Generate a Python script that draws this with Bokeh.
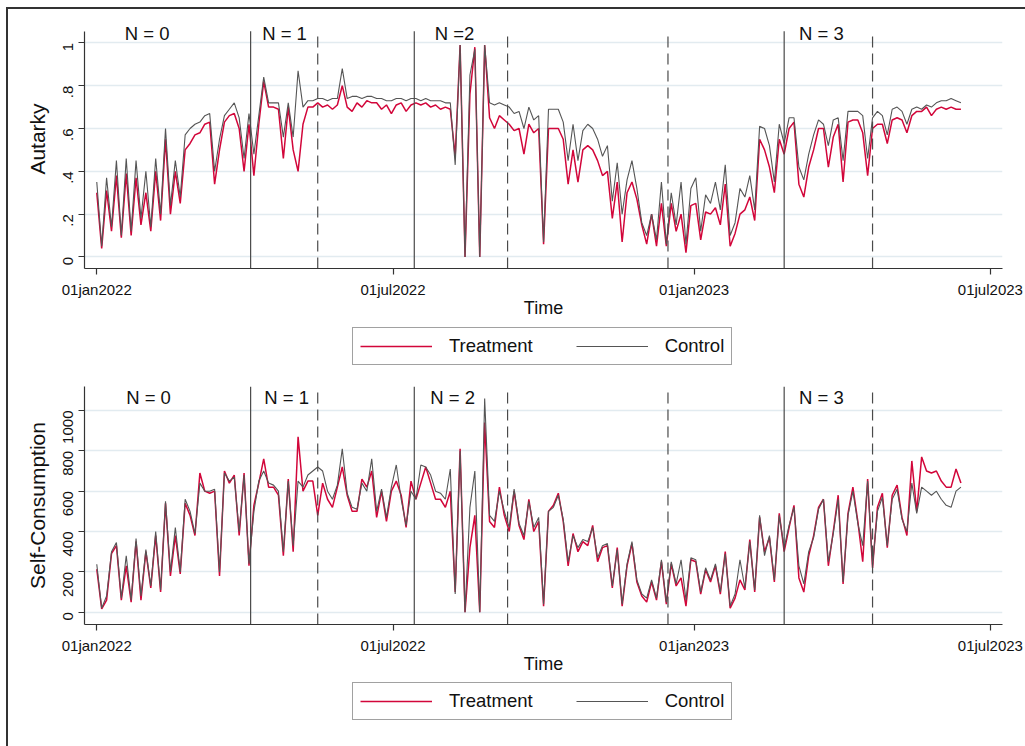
import math
import pandas as pd
from bokeh.plotting import figure
from bokeh.models import (Range1d, FixedTicker, Label, Legend, LegendItem,
                          CustomJSTickFormatter, ColumnDataSource)
from bokeh.layouts import column
from bokeh.embed import file_html
from bokeh.resources import INLINE

# ---------------- data (sampled every 3 days from 01jan2022) ----------------
start_date = "2022-01-01"
step = "3D"

autarky_treatment = [
    .30, .04, .31, .12, .38, .09, .39, .10, .37, .15, .30, .12, .40, .17, .55, .20, .40, .25, .50, .53, .57,
    .58, .62, .63, .34, .50, .63, .66, .67, .60, .40,
    .62, .38, .62, .82, .70, .70, .69, .46, .70, .50,
    .40, .62, .70, .70, .72, .70, .71, .69, .71, .80,
    .70, .68, .72, .70, .73, .72, .72, .69, .71, .67,
    .71, .72, .68, .71, .72, .71, .72, .70, .71, .69,
    .70, .69, .47, .99, .00, .76, .98, .00, .99, .65,
    .60, .66, .64, .62, .59, .60, .48, .62, .58, .60,
    .06, .60, .60, .60, .55, .34, .50, .35, .50, .52,
    .50, .45, .38, .40, .18, .35, .07, .30, .35, .27,
    .15, .06, .20, .05, .25, .05, .25, .12, .20, .02,
    .24, .25, .08, .21, .20, .23, .15, .34, .05, .11,
    .20, .22, .28, .17, .55, .50, .42, .30, .55, .48,
    .60, .63, .34, .28, .42, .50, .60, .60, .42, .56,
    .62, .35, .63, .64, .64, .58, .38, .60, .62, .62,
    .53, .64, .65, .64, .58, .66, .68, .68, .70, .66,
    .69, .70, .69, .70, .69, .69,
]
autarky_control = [
    .35, .05, .37, .14, .45, .10, .46, .12, .45, .18, .40, .14, .46, .20, .60, .24, .45, .28, .57, .60, .62,
    .63, .66, .67, .40, .55, .66, .69, .72, .65, .46,
    .67, .48, .66, .84, .72, .72, .72, .56, .72, .56,
    .87, .70, .73, .73, .74, .74, .73, .74, .74, .88,
    .74, .75, .75, .74, .75, .75, .74, .74, .73, .73,
    .74, .74, .73, .74, .74, .73, .74, .73, .73, .73,
    .72, .72, .43, .99, .00, .85, .97, .00, .99, .72,
    .71, .72, .71, .70, .67, .68, .60, .70, .64, .66,
    .07, .69, .69, .69, .63, .45, .62, .45, .59, .62,
    .60, .55, .47, .52, .26, .44, .20, .36, .45, .32,
    .16, .10, .20, .08, .35, .06, .30, .15, .35, .06,
    .32, .37, .12, .29, .25, .35, .22, .43, .10, .16,
    .32, .28, .38, .22, .61, .60, .52, .35, .62, .53,
    .65, .65, .42, .36, .48, .57, .64, .62, .52, .64,
    .65, .45, .68, .68, .68, .66, .46, .65, .68, .66,
    .57, .69, .70, .68, .62, .69, .70, .69, .71, .70,
    .72, .73, .73, .74, .73, .72,
]
selfcons_treatment = [
    213, 16, 60, 290, 330, 60, 230, 50, 350, 60, 300, 120, 380, 100, 540, 180, 380, 190, 540, 480, 380,
    690, 600, 590, 600, 180, 700, 640, 680, 380, 690,
    230, 530, 640, 760, 620, 620, 580, 280, 660, 300,
    870, 600, 650, 650, 480, 640, 560, 520, 620, 720,
    580, 500, 500, 660, 620, 700, 470, 600, 450, 600,
    650, 580, 420, 650, 560, 640, 720, 640, 560, 560,
    520, 600, 100, 810, 0, 320, 480, 0, 940, 450,
    420, 620, 480, 400, 600, 430, 360, 560, 400, 450,
    30, 500, 530, 590, 450, 230, 390, 300, 350, 330,
    430, 250, 320, 330, 120, 320, 30, 230, 340, 150,
    80, 50, 150, 60, 250, 40, 240, 130, 170, 30,
    260, 250, 90, 210, 150, 230, 90, 300, 20, 70,
    160, 110, 360, 100, 470, 300, 370, 150, 490, 300,
    420, 530, 170, 100, 280, 380, 520, 560, 230, 400,
    580, 140, 490, 620, 450, 250, 660, 220, 520, 590,
    320, 580, 630, 470, 380, 750, 500, 770, 700, 690,
    700, 650, 620, 620, 710, 640,
]
selfcons_control = [
    238, 20, 80, 300, 345, 70, 280, 60, 365, 80, 310, 130, 400, 110, 550, 200, 420, 200, 560, 500, 390,
    640, 600, 600, 610, 200, 690, 650, 670, 400, 680,
    240, 500, 650, 700, 640, 630, 600, 300, 650, 330,
    650, 620, 680, 700, 720, 700, 600, 560, 630, 810,
    590, 520, 510, 640, 600, 760, 500, 610, 470, 620,
    730, 560, 430, 600, 560, 730, 720, 680, 600, 590,
    560, 710, 90, 800, 0, 520, 700, 0, 1060, 480,
    450, 600, 500, 420, 610, 440, 380, 550, 420, 470,
    40, 500, 520, 580, 460, 250, 380, 320, 360, 350,
    420, 270, 330, 340, 130, 310, 40, 240, 350, 160,
    90, 70, 160, 70, 260, 50, 250, 140, 260, 60,
    270, 260, 100, 220, 160, 240, 100, 290, 30, 90,
    260, 120, 350, 110, 480, 280, 380, 160, 480, 320,
    430, 520, 230, 140, 300, 370, 510, 560, 250, 390,
    560, 150, 480, 600, 440, 330, 650, 230, 500, 570,
    330, 560, 610, 460, 400, 640, 490, 620, 600, 580,
    600, 560, 530, 520, 600, 620,
]

x_tick_dates = ["2022-01-01", "2022-07-01", "2023-01-01", "2023-07-01"]
autarky_ticks = [0, 0.2, 0.4, 0.6, 0.8, 1.0]
selfcons_ticks = [0, 200, 400, 600, 800, 1000]
solid_line_dates = ["2022-04-05", "2022-07-14", "2023-02-25"]
dashed_line_dates = ["2022-05-16", "2022-09-09", "2022-12-16", "2023-04-20"]
phase_labels_top = ["N = 0", "N = 1", "N =2", "N = 3"]
phase_labels_bottom = ["N = 0", "N = 1", "N = 2", "N = 3"]
series_names = ["Treatment", "Control"]

# ---------------- helpers ----------------
dates = pd.date_range(start_date, periods=len(autarky_treatment), freq=step)
base = pd.Timestamp(start_date)
DAY_MS = 86400000.0
W = 1017


def ms(ts):
    return pd.Timestamp(ts).value / 1e6


def day_ms(d):
    return ms(base) + d * DAY_MS


FONT = "Liberation Sans"
TXT = "#111111"
RED = "#d2063a"
GRAY = "#555555"
REFLINE = "#4a4a4a"

x_fmt = CustomJSTickFormatter(code="""
const d = new Date(tick);
const m = ['jan','feb','mar','apr','may','jun','jul','aug','sep','oct','nov','dec'][d.getUTCMonth()];
const dd = String(d.getUTCDate()).padStart(2, '0');
return dd + m + d.getUTCFullYear();
""")


def make_panel(t_vals, c_vals, y_lo, y_hi, y_top, y_ticks, y_fmt, ylab, labels, label_y,
               label_days, height, top_border, bottom_border):
    p = figure(x_axis_type="datetime", output_backend="svg", toolbar_location=None,
               width=W, height=height,
               min_border_left=76, min_border_right=23,
               min_border_top=top_border, min_border_bottom=bottom_border,
               x_range=Range1d(day_ms(-7.5), day_ms(553.4)),
               y_range=Range1d(y_lo, y_top))
    p.background_fill_color = "white"
    p.border_fill_color = "white"
    p.outline_line_color = None

    src = ColumnDataSource(dict(date=dates, t=t_vals, c=c_vals))
    p.line("date", "t", source=src, line_color=RED, line_width=1.5)
    p.line("date", "c", source=src, line_color=GRAY, line_width=1.1)

    sx = [ms(d) for d in solid_line_dates]
    p.segment(x0=sx, x1=sx, y0=[y_lo] * len(sx), y1=[y_hi] * len(sx),
              line_color=REFLINE, line_width=1.2)
    dx = [ms(d) for d in dashed_line_dates]
    p.segment(x0=dx, x1=dx, y0=[y_lo] * len(dx), y1=[y_hi] * len(dx),
              line_color=REFLINE, line_width=1.2, line_dash="11 6")

    for txt, d in zip(labels, label_days):
        p.add_layout(Label(x=day_ms(d), y=label_y, text=txt, text_align="center",
                           text_baseline="middle", text_font=FONT,
                           text_font_size="18.5px", text_color=TXT))

    # axes
    p.xaxis.ticker = FixedTicker(ticks=[ms(t) for t in x_tick_dates])
    p.xaxis.formatter = x_fmt
    p.xaxis.axis_label = "Time"
    p.yaxis.ticker = FixedTicker(ticks=y_ticks)
    p.yaxis.formatter = y_fmt
    p.yaxis.axis_label = ylab
    p.yaxis.bounds = (y_lo, y_hi)
    p.yaxis.major_label_orientation = math.pi / 2
    for ax in (p.xaxis, p.yaxis):
        ax.axis_line_color = "#333333"
        ax.axis_line_width = 1.2
        ax.major_tick_line_color = "#333333"
        ax.major_tick_line_width = 1.2
        ax.major_tick_out = 6
        ax.major_tick_in = 0
        ax.minor_tick_line_color = None
        ax.major_label_text_font = FONT
        ax.major_label_text_font_size = "15px"
        ax.major_label_text_color = TXT
        ax.axis_label_text_font = FONT
        ax.axis_label_text_font_style = "normal"
        ax.axis_label_text_color = TXT
    p.xaxis.axis_label_text_font_size = "18px"
    p.yaxis.axis_label_text_font_size = "21px"
    p.xaxis.major_label_standoff = 6
    p.xaxis.axis_label_standoff = -3
    p.yaxis.major_label_standoff = 10
    p.yaxis.axis_label_standoff = 7

    p.xgrid.grid_line_color = None
    p.ygrid.grid_line_color = "#e2ebf0"
    p.ygrid.grid_line_width = 1.5
    return p


def make_legend_strip(height, loc_y):
    q = figure(output_backend="svg", toolbar_location=None, width=W, height=height,
               min_border=0, x_range=Range1d(0, 1), y_range=Range1d(0, 1))
    q.axis.visible = False
    q.grid.visible = False
    q.outline_line_color = None
    q.background_fill_color = "white"
    q.border_fill_color = "white"
    proxy = ColumnDataSource(dict(x=[float("nan")], y=[float("nan")]))
    r_t = q.line("x", "y", source=proxy, line_color=RED, line_width=1.5)
    r_c = q.line("x", "y", source=proxy, line_color=GRAY, line_width=1.1)
    legend = Legend(items=[LegendItem(label=series_names[0], renderers=[r_t]),
                           LegendItem(label=series_names[1], renderers=[r_c])],
                    orientation="horizontal", location=(268, loc_y),
                    glyph_width=72, glyph_height=20, label_standoff=17, spacing=43,
                    padding=7, margin=0, label_text_font=FONT,
                    label_text_font_size="18.5px", label_text_color=TXT,
                    border_line_color="#444444", border_line_width=1.2,
                    background_fill_color="white", background_fill_alpha=1)
    q.add_layout(legend)
    return q


y_fmt_a = CustomJSTickFormatter(code="""
if (Math.abs(tick) < 1e-9) return '0';
if (Math.abs(tick - 1) < 1e-9) return '1';
return tick.toFixed(1).replace(/^0/, '');
""")
y_fmt_s = CustomJSTickFormatter(code="return Math.round(tick).toString();")

p1 = make_panel(autarky_treatment, autarky_control, -0.054, 1.054, 1.156, autarky_ticks,
                y_fmt_a, "Autarky", phase_labels_top, 1.045, [30.8, 114.7, 218.6, 442.8],
                311, 0, 50)
leg1 = make_legend_strip(52, 7)
p2 = make_panel(selfcons_treatment, selfcons_control, -61, 1119, 1119, selfcons_ticks,
                y_fmt_s, "Self-Consumption", phase_labels_bottom, 1064,
                [31.6, 116.0, 217.4, 442.8], 304, 14, 50)
leg2 = make_legend_strip(70, 26)

layout = column(p1, leg1, p2, leg2, spacing=0, margin=(7, 0, 0, 6),
                styles={"border-left": "2px solid #333333", "border-top": "2px solid #333333"})
open("out.html", "w").write(file_html(layout, INLINE))
